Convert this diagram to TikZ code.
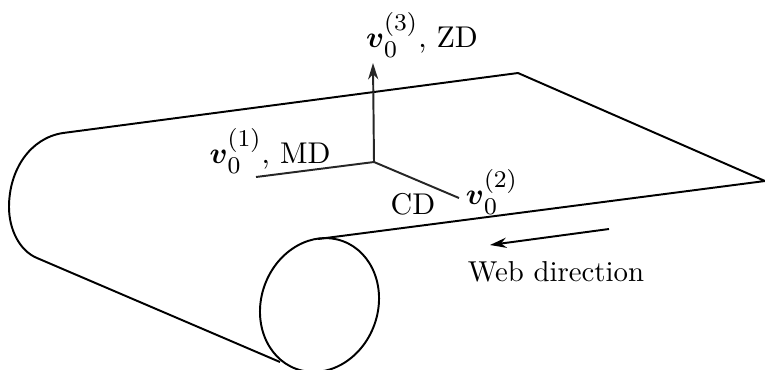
\documentclass[tikz,border=0pt]{standalone}
\usepackage{amssymb}
\usepackage{amsmath}
\usepackage{tikz}
\usetikzlibrary{
    arrows.meta
}
\DeclareMathSizes{10}{10}{8}{6}

\begin{document}
\begin{tikzpicture}[
      x=0.3333pt, y=-0.3333pt,
      web/.style={line width=0.65pt},
      axis/.style={line width=0.65pt, draw=black!85},
      arrow/.style={-{Stealth[length=5.5pt, width=3.4pt]}, line width=0.65pt},
      lbl/.style={inner sep=0pt}
    ]
    \useasboundingbox (0,0) rectangle (765,369);

    \coordinate (topl) at (63,133);
    \coordinate (topr) at (518,73);
    \coordinate (tipr) at (765,181);
    \coordinate (rollt) at (318,239);
    \coordinate (rollc) at (319.5,305);
    \coordinate (lowl) at (37,258);
    \coordinate (rollb) at (280,362);

    \draw[web] (rollt) -- (tipr) -- (topr) -- (topl)
        .. controls (30,138) and (9,170) .. (9,207)
        .. controls (9,230) and (20,251) .. (lowl) -- (rollb);
    \draw[web, rotate around={-20:(rollc)}] (rollc) ellipse [x radius=58.3, y radius=68];

    \coordinate (origin) at (374,162);
    \coordinate (mdend) at (256,177);
    \coordinate (cdend) at (459,198);
    \coordinate (zdend) at (373,63);
    \coordinate (webs) at (609,229);
    \coordinate (webe) at (490,245);

    \node[lbl] (zd) at (422,35) {$\boldsymbol{v}_0^{(3)}$, ZD};
    \node[lbl] (md) at (270,151) {$\boldsymbol{v}_0^{(1)}$, MD};
    \node[lbl] (cd2) at (492,192) {$\boldsymbol{v}_0^{(2)}$};
    \node[lbl] (cd) at (413,204) {CD};
    \node[lbl, scale=0.96] (webdir) at (556,272) {Web direction};

    \draw[axis] (origin) -- (mdend);
    \draw[axis] (origin) -- (cdend);
    \draw[arrow, axis] (origin) -- (zdend);
    \draw[arrow] (webs) -- (webe);
  \end{tikzpicture}
\end{document}
